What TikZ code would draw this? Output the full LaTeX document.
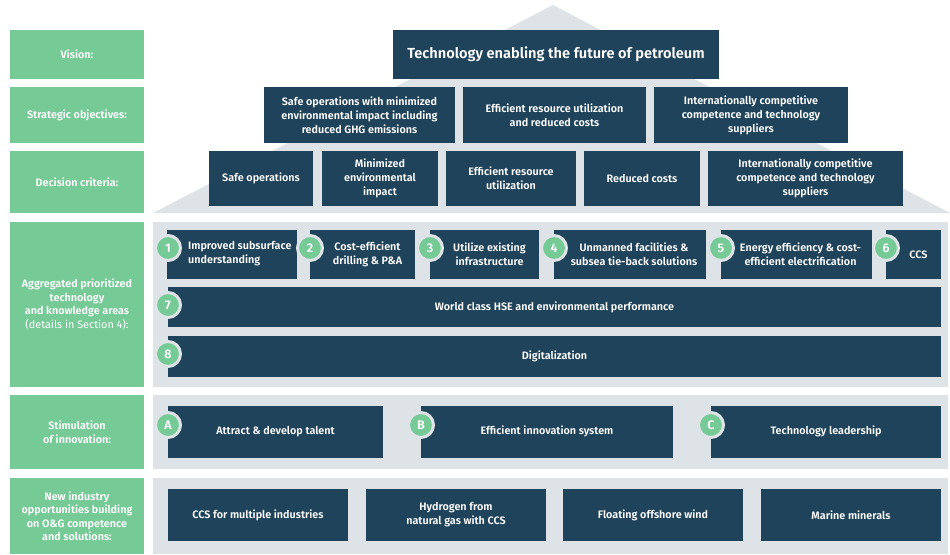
\documentclass[tikz,border=0pt]{standalone}
\usepackage{fontspec}
\setmainfont{Fira Sans}[BoldFont={Fira Sans SemiBold}]
\definecolor{navy}{HTML}{1E435A}
\definecolor{lgreen}{HTML}{76CA96}
\definecolor{panel}{HTML}{DEE3E7}
\tikzset{
  darkbox/.style={fill=navy, text=white, inner sep=0pt, font=\bfseries\fontsize{10.8}{14}\selectfont, align=center},
  greenbox/.style={fill=lgreen, text=white, inner sep=0pt, font=\bfseries\fontsize{10.8}{13.5}\selectfont, align=center},
  numcirc/.style={circle, fill=lgreen, draw=panel, line width=3pt, minimum size=25pt, inner sep=0pt, text=white, font=\bfseries\fontsize{12.5}{12.5}\selectfont},
  panelbox/.style={fill=panel, draw=none}
}
% \bx{style}{name}{x1}{y1}{x2}{y2}{text}
\newcommand{\bx}[7]{\node[#1, minimum width={(#5-#3)*1pt}, minimum height={(#6-#4)*1pt}] (#2) at ({(#3+#5)/2},{(#4+#6)/2}) {#7};}
\begin{document}
\begin{tikzpicture}[x=1pt,y=-1pt]
\useasboundingbox (0,0) rectangle (950,554);
% pyramid
\fill[panel] (153,213) -- (553,5) -- (950,213) -- cycle;
% panels
\fill[panel] (153,222) rectangle (948,387);
\fill[panel] (153,395) rectangle (948,469);
\fill[panel] (153,478) rectangle (948,554);
% left labels
\bx{greenbox}{gv}{10}{30}{144}{79}{Vision:}
\bx{greenbox}{gs}{10}{87}{144}{143}{Strategic objectives:}
\bx{greenbox}{gd}{10}{151}{144}{213}{Decision criteria:}
\bx{greenbox}{ga}{10}{222}{144}{387}{Aggregated prioritized\\technology\\and knowledge areas\\{\mdseries(details in Section 4):}}
\bx{greenbox}{gi}{10}{395}{144}{469}{Stimulation\\of innovation:}
\bx{greenbox}{gn}{10}{478}{144}{554}{New industry\\opportunities building\\on O\&G competence\\and solutions:}
% vision
\bx{darkbox}{vis}{393}{30}{719}{79}{\fontsize{14.6}{17}\selectfont Technology enabling the future of petroleum}
% strategic
\bx{darkbox}{s1}{264}{87}{455}{143}{Safe operations with minimized\\environmental impact including\\reduced GHG emissions}
\bx{darkbox}{s2}{463}{87}{646}{143}{Efficient resource utilization\\and reduced costs}
\bx{darkbox}{s3}{654}{87}{848}{143}{Internationally competitive\\competence and technology\\suppliers}
% decision
\bx{darkbox}{d1}{209}{151}{313}{206}{Safe operations}
\bx{darkbox}{d2}{322}{151}{438}{206}{Minimized\\environmental\\impact}
\bx{darkbox}{d3}{446}{151}{576}{206}{Efficient resource\\utilization}
\bx{darkbox}{d4}{584}{151}{700}{206}{Reduced costs}
\bx{darkbox}{d5}{708}{151}{903}{206}{Internationally competitive\\competence and technology\\suppliers}
% aggregated
\bx{darkbox}{b1}{167}{230}{297}{279}{}
\node[darkbox, align=left, anchor=west] (b1t) at (188,254) {Improved subsurface\\understanding};
\bx{darkbox}{b2}{310}{230}{415}{279}{\hspace*{10pt}Cost-efficient\\\hspace*{10pt}drilling \& P\&A}
\bx{darkbox}{b3}{430}{230}{539}{279}{\hspace*{10pt}Utilize existing\\\hspace*{10pt}infrastructure}
\bx{darkbox}{b4}{554}{230}{706}{279}{\hspace*{8pt}Unmanned facilities \&\\\hspace*{8pt}subsea tie-back solutions}
\bx{darkbox}{b5}{721}{230}{872}{279}{\hspace*{8pt}Energy efficiency \& cost-\\\hspace*{8pt}efficient electrification}
\bx{darkbox}{b6}{886}{230}{941}{279}{\hspace*{10pt}CCS}
\bx{darkbox}{b7}{168}{287}{941}{327}{World class HSE and environmental performance}
\bx{darkbox}{b8}{168}{336}{941}{377}{Digitalization}
\node[numcirc] (n1) at (168,248) {1};
\node[numcirc] (n2) at (310,248) {2};
\node[numcirc] (n3) at (430,248) {3};
\node[numcirc] (n4) at (554,248) {4};
\node[numcirc] (n5) at (721,248) {5};
\node[numcirc] (n6) at (886,248) {6};
\node[numcirc] (n7) at (168,305) {7};
\node[numcirc] (n8) at (168,354) {8};
% stimulation
\bx{darkbox}{ia}{168}{406}{383}{458}{\raisebox{3pt}{Attract \& develop talent}}
\bx{darkbox}{ib}{421}{406}{673}{458}{\raisebox{3pt}{Efficient innovation system}}
\bx{darkbox}{ic}{711}{406}{941}{458}{\raisebox{3pt}{Technology leadership}}
\node[numcirc] (na) at (168,425) {A};
\node[numcirc] (nb) at (421,425) {B};
\node[numcirc] (nc) at (711,425) {C};
% new industry
\bx{darkbox}{o1}{168}{489}{348}{541}{CCS for multiple industries}
\bx{darkbox}{o2}{366}{489}{546}{541}{Hydrogen from\\natural gas with CCS}
\bx{darkbox}{o3}{563}{489}{743}{541}{Floating offshore wind}
\bx{darkbox}{o4}{761}{489}{941}{541}{Marine minerals}
\end{tikzpicture}
\end{document}
